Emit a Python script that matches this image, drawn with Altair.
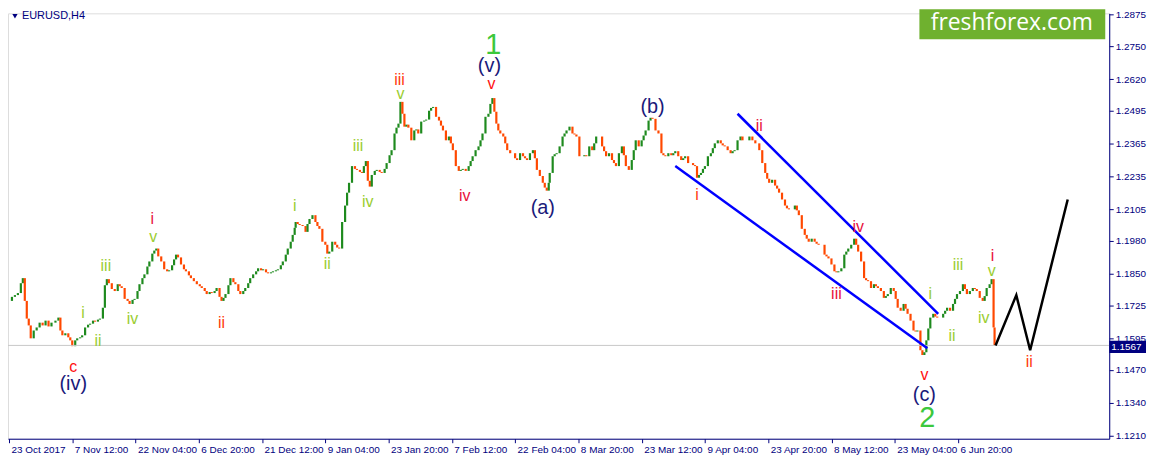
import altair as alt
import pandas as pd

# ---- price path (H4 bar index from 23 Oct 2017, close prices) ----
bar_index = [
    0, 3, 6, 9, 12, 14, 16, 18, 20, 22,
    25, 28, 31, 34, 37, 40, 43, 47, 50, 52,
    54, 57, 60, 62, 64, 67, 69, 72, 74, 77,
    80, 82, 85, 87, 90, 92, 95, 97, 99, 101,
    104, 107, 110, 112, 114, 117, 120, 122, 125, 127,
    130, 132, 135, 137, 140, 142, 145, 147, 149, 151,
    154, 157, 160, 162, 165, 167, 169, 171, 174, 177,
    179, 182, 184, 187, 190, 193, 195, 198, 200, 203,
    205, 208, 210, 213, 215, 217, 219, 222, 224, 227,
    229, 232, 234, 237, 239, 242, 244, 247, 250, 252,
    255, 257, 260, 262, 265, 267, 270, 272, 275, 277,
    280, 282, 285, 287, 289, 290, 292, 294, 297, 300,
    302, 304, 307, 310, 312, 314, 317, 320, 322, 324,
    327, 330, 332, 334, 337, 340, 342, 344, 347, 350,
    352, 355, 357, 359, 361, 363, 365, 367, 370, 372,
    375, 377, 380, 382, 385, 387, 390, 392, 394, 396,
    398, 400, 402, 404, 407, 410, 412, 414, 417, 420,
    422, 425, 427, 429, 432, 435, 437, 439, 442, 445,
    447, 449, 452, 455, 457, 459, 462, 465, 467, 469,
    472, 475, 477, 479, 482, 485, 487, 489, 491, 493,
    495, 497, 500, 502, 504, 507, 510, 512, 514, 517,
    520, 522, 524, 527, 530, 532, 534, 537, 540, 542,
    544, 546, 547, 550, 552, 554, 557, 560, 562, 564,
    567, 570, 572, 574, 577, 580, 582, 584, 587, 590,
    592, 594, 597, 600, 602, 604, 607, 610, 612, 614,
    617, 620, 622, 624, 627, 630, 632, 634, 637, 640,
    642, 644, 647, 649, 651, 654, 657, 660, 662, 664,
    667, 670, 672, 674, 677, 680, 682, 684, 687, 690,
    692, 694, 696, 698, 700, 702, 704, 707, 710, 712,
    714, 717, 720, 722, 724, 727, 730, 732, 734, 737,
    740, 742, 745, 747, 749, 752, 755, 759, 762, 765,
    767, 769, 772, 775, 777, 779, 782, 785, 787, 789,
    792, 795, 797, 799, 802, 805, 807, 809, 812, 815,
    817, 819, 822, 825, 827, 829, 832, 835, 837, 839,
    842, 845, 847, 849, 852, 855, 857, 859, 862, 865,
    867, 869, 872, 875, 877, 879, 882, 885, 887, 889,
    892, 895, 897, 899, 902, 905, 907, 909, 912, 915,
    917, 919, 922, 924, 926, 928, 930, 932, 935, 937,
    939, 942, 945, 947, 949, 952, 955, 957, 959, 962,
    965, 967, 969, 972, 975, 977, 979, 982, 985, 987,
    989, 992, 994, 996, 997,
]
close = [
    1.1743, 1.1759, 1.1766, 1.1774, 1.1813, 1.1833, 1.1743, 1.1673, 1.1646, 1.1595,
    1.1626, 1.1638, 1.1657, 1.1646, 1.1665, 1.1642, 1.1657, 1.1665, 1.1677, 1.1626,
    1.1607, 1.1615, 1.1599, 1.1587, 1.1564, 1.1587, 1.1595, 1.1599, 1.1607, 1.1638,
    1.1649, 1.1653, 1.1665, 1.1661, 1.1669, 1.1673, 1.1716, 1.1805, 1.1829, 1.1813,
    1.1790, 1.1782, 1.1809, 1.1801, 1.1794, 1.1751, 1.1743, 1.1731, 1.1747, 1.1751,
    1.1782, 1.1809, 1.1833, 1.1848, 1.1879, 1.1899, 1.1930, 1.1942, 1.1950, 1.1919,
    1.1899, 1.1868, 1.1860, 1.1864, 1.1884, 1.1907, 1.1926, 1.1915, 1.1887, 1.1868,
    1.1860, 1.1844, 1.1833, 1.1821, 1.1809, 1.1801, 1.1794, 1.1782, 1.1770, 1.1778,
    1.1774, 1.1782, 1.1794, 1.1759, 1.1743, 1.1755, 1.1770, 1.1805, 1.1833, 1.1817,
    1.1809, 1.1782, 1.1770, 1.1782, 1.1794, 1.1813, 1.1833, 1.1848, 1.1860, 1.1872,
    1.1864, 1.1868, 1.1856, 1.1852, 1.1856, 1.1860, 1.1864, 1.1868, 1.1884, 1.1899,
    1.1926, 1.1950, 1.1977, 1.2004, 1.2032, 1.2055, 1.2047, 1.2043, 1.2039, 1.2016,
    1.2047, 1.2067, 1.2082, 1.2055, 1.2039, 1.2028, 1.1977, 1.1965, 1.1930, 1.1938,
    1.1977, 1.1965, 1.1954, 1.1950, 1.2055, 1.2120, 1.2171, 1.2210, 1.2276, 1.2265,
    1.2261, 1.2253, 1.2249, 1.2276, 1.2296, 1.2218, 1.2195, 1.2241, 1.2257, 1.2261,
    1.2253, 1.2249, 1.2265, 1.2288, 1.2319, 1.2339, 1.2405, 1.2428, 1.2444, 1.2530,
    1.2483, 1.2432, 1.2440, 1.2428, 1.2378, 1.2417, 1.2421, 1.2405, 1.2452, 1.2456,
    1.2460, 1.2495, 1.2506, 1.2510, 1.2471, 1.2456, 1.2436, 1.2417, 1.2378, 1.2393,
    1.2366, 1.2339, 1.2276, 1.2257, 1.2261, 1.2265, 1.2257, 1.2276, 1.2296, 1.2315,
    1.2339, 1.2354, 1.2378, 1.2405, 1.2471, 1.2483, 1.2522, 1.2545, 1.2491, 1.2444,
    1.2417, 1.2405, 1.2393, 1.2366, 1.2339, 1.2327, 1.2327, 1.2307, 1.2300, 1.2327,
    1.2315, 1.2307, 1.2300, 1.2327, 1.2339, 1.2307, 1.2261, 1.2237, 1.2210, 1.2191,
    1.2179, 1.2210, 1.2249, 1.2315, 1.2323, 1.2327, 1.2354, 1.2393, 1.2405, 1.2417,
    1.2432, 1.2405, 1.2401, 1.2393, 1.2315, 1.2315, 1.2319, 1.2315, 1.2354, 1.2339,
    1.2366, 1.2393, 1.2393, 1.2354, 1.2335, 1.2315, 1.2327, 1.2300, 1.2288, 1.2276,
    1.2327, 1.2354, 1.2319, 1.2276, 1.2261, 1.2300, 1.2339, 1.2378, 1.2354, 1.2378,
    1.2397, 1.2417, 1.2456, 1.2467, 1.2463, 1.2417, 1.2405, 1.2327, 1.2319, 1.2315,
    1.2327, 1.2319, 1.2327, 1.2335, 1.2315, 1.2300, 1.2307, 1.2315, 1.2288, 1.2288,
    1.2280, 1.2276, 1.2230, 1.2241, 1.2249, 1.2265, 1.2276, 1.2315, 1.2327, 1.2347,
    1.2366, 1.2378, 1.2366, 1.2358, 1.2354, 1.2339, 1.2327, 1.2335, 1.2339, 1.2378,
    1.2393, 1.2378, 1.2378, 1.2378, 1.2393, 1.2378, 1.2366, 1.2339, 1.2288, 1.2249,
    1.2226, 1.2210, 1.2222, 1.2199, 1.2187, 1.2171, 1.2144, 1.2120, 1.2109, 1.2105,
    1.2105, 1.2120, 1.2101, 1.2082, 1.2028, 1.2004, 1.1989, 1.1977, 1.1989, 1.1977,
    1.1969, 1.1965, 1.1965, 1.1926, 1.1919, 1.1911, 1.1887, 1.1860, 1.1856, 1.1860,
    1.1872, 1.1926, 1.1938, 1.1950, 1.1965, 1.1989, 1.1965, 1.1938, 1.1899, 1.1833,
    1.1825, 1.1821, 1.1794, 1.1809, 1.1801, 1.1794, 1.1782, 1.1755, 1.1762, 1.1770,
    1.1794, 1.1782, 1.1751, 1.1716, 1.1704, 1.1731, 1.1712, 1.1692, 1.1665, 1.1626,
    1.1622, 1.1626, 1.1548, 1.1529, 1.1540, 1.1587, 1.1634, 1.1677, 1.1692, 1.1681,
    1.1677, 1.1677, 1.1692, 1.1704, 1.1716, 1.1704, 1.1731, 1.1751, 1.1770, 1.1782,
    1.1809, 1.1790, 1.1770, 1.1782, 1.1794, 1.1790, 1.1782, 1.1755, 1.1743, 1.1762,
    1.1794, 1.1809, 1.1829, 1.1638, 1.1567,
]

last_price = 1.1567

# ---- axes ----
y_ticks = [1.2875, 1.2750, 1.2620, 1.2495, 1.2365, 1.2235, 1.2105,
           1.1980, 1.1850, 1.1725, 1.1595, 1.1470, 1.1340, 1.1210]
x_tick_bars = [0, 64, 128, 192, 256, 320, 384, 448, 512, 576, 640, 704, 768, 832, 896, 960]
x_tick_labels = ["23 Oct 2017", "7 Nov 12:00", "22 Nov 04:00", "6 Dec 20:00", "21 Dec 12:00",
                 "9 Jan 04:00", "23 Jan 20:00", "7 Feb 12:00", "22 Feb 04:00", "8 Mar 20:00",
                 "23 Mar 12:00", "9 Apr 04:00", "23 Apr 20:00", "8 May 12:00", "23 May 04:00",
                 "6 Jun 20:00"]

# ---- trend channel and projection ----
upper_bar = [737, 940]
upper_price = [1.2483, 1.1692]
lower_bar = [674, 929]
lower_price = [1.2276, 1.1556]
proj_bar = [998, 1019, 1033, 1071]
proj_price = [1.1567, 1.1766, 1.1548, 1.2144]

# ---- wave labels ----
wave_text = ["c", "i", "ii", "iii", "iv", "v", "i", "ii",
             "i", "ii", "iii", "iv", "v", "iii", "iv", "v",
             "i", "ii", "iii", "iv", "v",
             "i", "ii", "iii", "iv", "v", "i", "ii"]
wave_bar = [65, 75, 90, 98, 125, 146, 145, 215,
            289, 322, 353, 363, 396, 395, 461, 488,
            696, 759, 837, 859, 926,
            932, 954, 960, 986, 994, 995, 1032]
wave_price = [1.1482, 1.1696, 1.1583, 1.1879, 1.1673, 1.1996, 1.2067, 1.1657,
              1.2120, 1.1887, 1.2354, 1.2132, 1.2561, 1.2615, 1.2156, 1.2600,
              1.2160, 1.2436, 1.1770, 1.2035, 1.1451,
              1.1770, 1.1603, 1.1883, 1.1677, 1.1860, 1.1922, 1.1501]
wave_kind = ["red", "minor", "minor", "minor", "minor", "minor", "crimson", "orange",
             "minor", "minor", "minor", "minor", "minor", "orange", "crimson", "red",
             "orange", "crimson", "crimson", "crimson", "red",
             "minor", "minor", "minor", "minor", "minor", "crimson", "orange"]

major_text = ["(iv)", "(v)", "(a)", "(b)", "(c)"]
major_bar = [65, 486, 540, 651, 926]
major_price = [1.1416, 1.2670, 1.2109, 1.2510, 1.1369]

degree_text = ["1", "2"]
degree_bar = [490, 929]
degree_price = [1.2755, 1.1279]

# ---- build tables ----
opens = [close[0]] + close[:-1]
candles = pd.DataFrame({"bar": bar_index, "open": opens, "close": close})
candles["dir"] = ["up" if c >= o else "down" for o, c in zip(opens, close)]

waves = pd.DataFrame({"text": wave_text, "bar": wave_bar, "price": wave_price, "kind": wave_kind})
majors = pd.DataFrame({"text": major_text, "bar": major_bar, "price": major_price})
degrees = pd.DataFrame({"text": degree_text, "bar": degree_bar, "price": degree_price})
upper = pd.DataFrame({"bar": upper_bar, "price": upper_price})
lower = pd.DataFrame({"bar": lower_bar, "price": lower_price})
proj = pd.DataFrame({"bar": proj_bar, "price": proj_price})
lastdf = pd.DataFrame({"price": [last_price], "top": [last_price + 0.0018],
                       "bottom": [last_price - 0.0030], "mid": [last_price - 0.0006],
                       "label": [f"{last_price:.4f}"]})
one = pd.DataFrame({"a": [0]})

NAVY = "#000080"
FONT = "Liberation Sans"

xs = alt.Scale(domain=[-1, 1113], nice=False, zero=False)
ys = alt.Scale(domain=[1.1198, 1.2880], nice=False, zero=False)

label_arr = "[" + ",".join(f"'{s}'" for s in x_tick_labels) + "]"
bar_arr = "[" + ",".join(str(b) for b in x_tick_bars) + "]"

x_axis = alt.Axis(values=x_tick_bars, labelExpr=f"{label_arr}[indexof({bar_arr}, datum.value)]",
                  labelAlign="left", labelFlush=False, labelOverlap=False, labelOffset=2,
                  labelFont=FONT, labelFontSize=10, labelColor=NAVY, labelPadding=2,
                  tickSize=4, tickColor=NAVY, domainColor=NAVY, grid=False, title=None)
y_axis = alt.Axis(orient="right", values=y_ticks, format=".4f", labelFont=FONT, labelFontSize=10,
                  labelColor=NAVY, labelPadding=2, tickSize=4, tickColor=NAVY, domainColor=NAVY,
                  grid=False, title=None, labelOverlap=False, labelFlush=False)


def X(field="bar"):
    return alt.X(f"{field}:Q", scale=xs, axis=x_axis)


def Y(field="price"):
    return alt.Y(f"{field}:Q", scale=ys, axis=y_axis)


price_line = alt.Chart(lastdf).mark_rule(color="#c8c8c8", strokeWidth=1).encode(y=Y("price"))

bars = alt.Chart(candles).mark_rule(strokeWidth=2.2).encode(
    x=X("bar"),
    y=Y("open"),
    y2="close:Q",
    color=alt.Color("dir:N", scale=alt.Scale(domain=["up", "down"], range=["#1e8a1e", "#ff4800"]), legend=None),
)

upper_l = alt.Chart(upper).mark_line(color="#0000ff", strokeWidth=2.5).encode(x=X(), y=Y())
lower_l = alt.Chart(lower).mark_line(color="#0000ff", strokeWidth=2.5).encode(x=X(), y=Y())
proj_l = alt.Chart(proj).mark_line(color="#000000", strokeWidth=2.5).encode(x=X(), y=Y())

wave_t = alt.Chart(waves).mark_text(font=FONT, fontSize=16, align="center", baseline="middle").encode(
    x=X(), y=Y(), text="text:N",
    color=alt.Color("kind:N", scale=alt.Scale(domain=["minor", "red", "orange", "crimson"],
                                              range=["#9acd32", "#ff1010", "#ff3a0a", "#e8103c"]),
                    legend=None),
)
major_t = alt.Chart(majors).mark_text(font=FONT, fontSize=20, align="center", baseline="middle",
                                      color="#1a1a7a").encode(x=X(), y=Y(), text="text:N")
degree_t = alt.Chart(degrees).mark_text(font=FONT, fontSize=29, align="center", baseline="middle",
                                        color="#3cc83c").encode(x=X(), y=Y(), text="text:N")

box = alt.Chart(lastdf).mark_rect(color=NAVY).encode(
    x=alt.value(1108), x2=alt.value(1145), y=Y("top"), y2="bottom:Q")
box_t = alt.Chart(lastdf).mark_text(font=FONT, fontSize=10, align="left", baseline="middle",
                                    color="white").encode(x=alt.value(1110), y=Y("mid"), text="label:N")

logo = alt.Chart(one).mark_rect(color="#6fb12f").encode(
    x=alt.value(917), x2=alt.value(1104), y=alt.value(-4), y2=alt.value(26))
logo_t = alt.Chart(one).mark_text(font="Open Sans", fontSize=23, align="center", baseline="middle",
                                  color="white").encode(x=alt.value(1010), y=alt.value(10),
                                                        text=alt.value("freshforex.com"))

tri = alt.Chart(one).mark_point(shape="triangle-down", filled=True, size=28, color=NAVY, opacity=1).encode(
    x=alt.value(7), y=alt.value(3))
title_t = alt.Chart(one).mark_text(font=FONT, fontSize=11, align="left", baseline="middle",
                                   color=NAVY).encode(x=alt.value(14), y=alt.value(3),
                                                      text=alt.value("EURUSD,H4"))

chart = alt.layer(
    bars, price_line, upper_l, lower_l, proj_l, wave_t, major_t, degree_t,
    box, box_t, logo, logo_t, tri, title_t,
).resolve_scale(color="independent").properties(
    width=1108, height=428,
    autosize=alt.AutoSizeParams(type="none"),
    padding={"left": 0, "top": 4, "right": 38, "bottom": 18},
).configure_view(stroke=NAVY, strokeWidth=1).configure(background="white")

chart.save("out.html", embed_options={"renderer": "svg", "actions": False})
